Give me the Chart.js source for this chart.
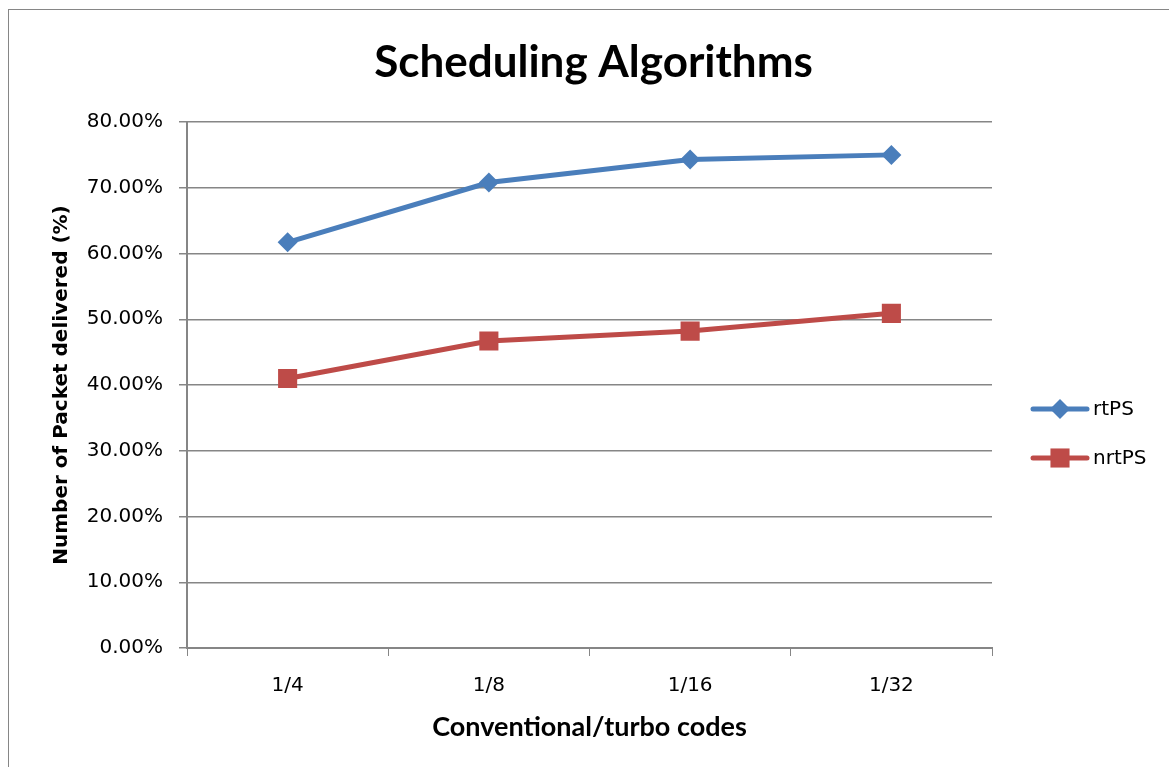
<!DOCTYPE html>
<html>
<head>
<meta charset="utf-8">
<script src="https://cdn.jsdelivr.net/npm/chart.js@4/dist/chart.umd.min.js"></script>
<style>
    html, body { margin: 0; padding: 0; background: #fff; overflow: hidden; }
    #frame { position: absolute; left: 8px; top: 9px; width: 1200px; height: 800px; border: 1px solid #868686; }
    #wrap { position: absolute; left: 0; top: 0; width: 1169px; height: 767px; }
</style>
</head>
<body>
<div id="frame"></div>
<div id="wrap"><canvas id="chart"></canvas></div>
<script>
const categories = ['1/4', '1/8', '1/16', '1/32'];
const rtPS = [61.7, 70.8, 74.3, 75.0];
const nrtPS = [41.0, 46.7, 48.2, 50.9];
const yTicks = [0, 10, 20, 30, 40, 50, 60, 70, 80];

const blue = '#4A7EBB';
const red = '#BE4B48';
const gridColor = '#868686';

// legend drawn next to the plot: short line with the marker in the middle
const sideLegend = {
    id: 'sideLegend',
    afterDraw(chart) {
        const ctx = chart.ctx;
        const rows = [409, 458];
        chart.data.datasets.forEach((ds, i) => {
            const y = rows[i];
            ctx.save();
            ctx.strokeStyle = ds.borderColor;
            ctx.lineWidth = 5;
            ctx.lineCap = 'round';
            ctx.beginPath();
            ctx.moveTo(1033, y);
            ctx.lineTo(1087, y);
            ctx.stroke();
            ctx.fillStyle = ds.borderColor;
            Chart.helpers.drawPoint(ctx, {
                pointStyle: ds.pointStyle,
                radius: ds.pointRadius,
                borderWidth: 0
            }, 1060, y);
            ctx.fillStyle = '#000';
            ctx.font = '20px "DejaVu Sans"';
            ctx.textBaseline = 'middle';
            ctx.fillText(ds.label, 1093, y + 1);
            ctx.restore();
        });
    }
};

new Chart(document.getElementById('chart'), {
    type: 'line',
    data: {
        labels: categories,
        datasets: [
            {
                label: 'rtPS',
                data: rtPS,
                borderColor: blue,
                backgroundColor: blue,
                borderWidth: 5,
                pointStyle: 'rectRot',
                pointRadius: 10,
                pointBorderWidth: 0,
                tension: 0
            },
            {
                label: 'nrtPS',
                data: nrtPS,
                borderColor: red,
                backgroundColor: red,
                borderWidth: 5,
                pointStyle: 'rect',
                pointRadius: 13.5,
                pointBorderWidth: 0,
                tension: 0
            }
        ]
    },
    options: {
        responsive: true,
        maintainAspectRatio: false,
        animation: false,
        layout: { padding: { top: 36.6, right: 0, bottom: 0, left: 18 } },
        plugins: {
            legend: { display: false },
            tooltip: { enabled: false },
            title: {
                display: true,
                text: 'Scheduling Algorithms',
                color: '#000',
                font: { family: 'Lato', size: 44, weight: 'bold' },
                padding: { top: 0, bottom: 32.6 }
            }
        },
        scales: {
            x: {
                offset: true,
                grid: {
                    offset: true,
                    drawOnChartArea: false,
                    color: gridColor,
                    tickLength: 8
                },
                border: { color: gridColor, width: 2 },
                ticks: {
                    color: '#000',
                    padding: 18,
                    font: { family: 'DejaVu Sans', size: 20 }
                },
                title: {
                    display: true,
                    text: 'Conventional/turbo codes',
                    color: '#000',
                    font: { family: 'Lato', size: 27, weight: 'bold' },
                    padding: { top: 0, bottom: 24 }
                },
                afterFit(scale) { scale.height = 119; }
            },
            y: {
                min: 0,
                max: 80,
                afterBuildTicks(scale) { scale.ticks = yTicks.map(v => ({ value: v })); },
                grid: { color: gridColor, lineWidth: 1.5, tickLength: 8 },
                border: { color: gridColor, width: 2 },
                ticks: {
                    color: '#000',
                    padding: 16,
                    font: { family: 'DejaVu Sans', size: 20 },
                    callback: v => v.toFixed(2) + '%'
                },
                title: {
                    display: true,
                    text: 'Number of Packet delivered (%)',
                    color: '#000',
                    font: { family: 'DejaVu Sans', size: 20, weight: 'bold' },
                    padding: { top: 32, bottom: 0 }
                },
                afterFit(scale) { scale.width = 169; }
            },
            // empty right-hand scale that keeps room for the legend
            legendSpace: {
                type: 'linear',
                position: 'right',
                grid: { display: false },
                border: { display: false },
                ticks: { display: false },
                afterFit(scale) { scale.width = 177; }
            }
        }
    },
    plugins: [sideLegend]
});
</script>
</body>
</html>
